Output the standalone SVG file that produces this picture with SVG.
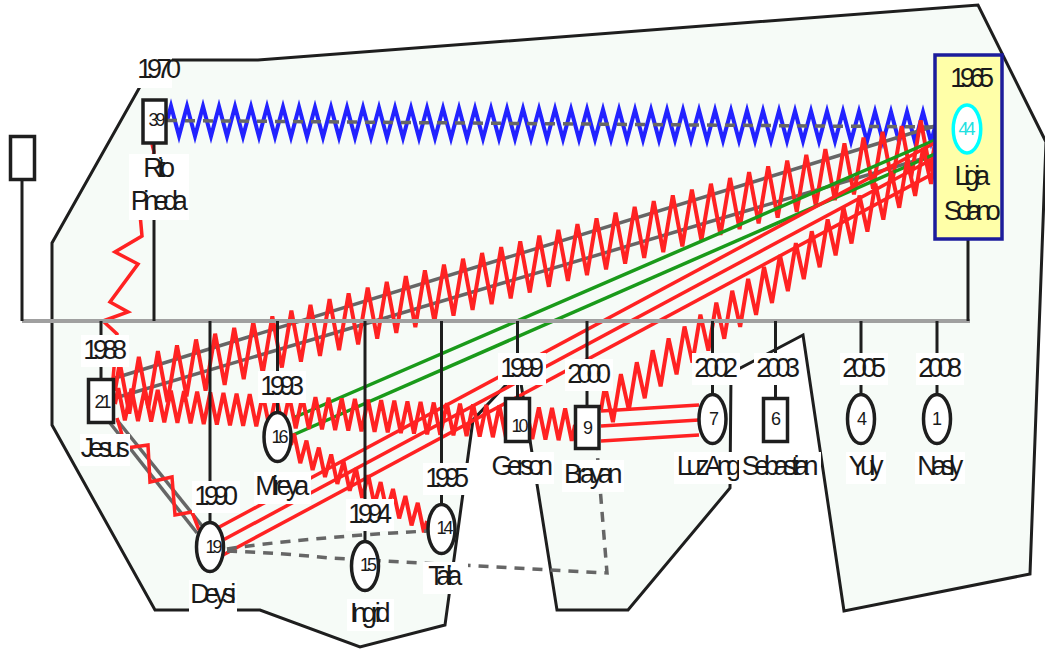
<svg xmlns="http://www.w3.org/2000/svg" width="1045" height="649" viewBox="0 0 1045 649">
<style>
.t{font-family:"Liberation Sans",Arial,sans-serif;font-size:27px;letter-spacing:-5.4px;fill:#1a1a1a;text-anchor:middle}
.n{font-family:"Liberation Sans",Arial,sans-serif;font-size:18px;letter-spacing:-3px;fill:#1a1a1a;text-anchor:middle}
.n1{letter-spacing:0}
.bx{fill:#fff}
.sh{fill:#fff;stroke:#1e1e1e;stroke-width:3.5}
.fam{stroke:#1e1e1e;stroke-width:3;fill:none}
.sib{stroke:#a0a0a0;stroke-width:4;fill:none}
.zz{fill:none;stroke-width:4;vector-effect:non-scaling-stroke;stroke-linejoin:miter}
.red{stroke:#ff2222}
.blue{stroke:#2222ff}
.grn{stroke:#1a9a1a;stroke-width:3.5;fill:none}
.gry{stroke:#666;stroke-width:3.5;fill:none}
.dsh{stroke:#666;stroke-width:3.5;fill:none;stroke-dasharray:10 8}
.rl{stroke:#ff2222;stroke-width:3.5;fill:none}
</style>
<rect width="1045" height="649" fill="#fff"/>
<path id="zone" d="M155,60 L258,60 L978,5 L1046,142 L1030,574 L844,611 L803,335 L731,373 L730,488 L628,610 L557,610 L519,371 L473,420 L445,625 L360,647 L260,610 L155,610 L52,425 L52,243 Z" fill="#f6fbf7" stroke="#1e1e1e" stroke-width="3"/>
<g id="connectors">
<path class="zz blue" transform="translate(167,121) skewY(0.45) scale(16,15)" d="M0,0l.25,-1
.5,2 .5,-2 .5,2 .5,-2 .5,2 .5,-2 .5,2 .5,-2 .5,2 .5,-2  .5,2 .5,-2 .5,2 .5,-2 .5,2 .5,-2 .5,2 .5,-2 .5,2 .5,-2
.5,2 .5,-2 .5,2 .5,-2 .5,2 .5,-2 .5,2 .5,-2 .5,2 .5,-2  .5,2 .5,-2 .5,2 .5,-2 .5,2 .5,-2 .5,2 .5,-2 .5,2 .5,-2
.5,2 .5,-2 .5,2 .5,-2 .5,2 .5,-2 .5,2 .5,-2 .5,2 .5,-2  .5,2 .5,-2 .5,2 .5,-2 .5,2 .5,-2 .5,2 .5,-2 .5,2 .5,-2
.5,2 .5,-2 .5,2 .5,-2 .5,2 .5,-2 .5,2 .5,-2 .5,2 .5,-2  .5,2 .5,-2 .5,2 .5,-2 .5,2 .5,-2 .5,2 .5,-2 .5,2 .5,-2
.5,2 .5,-2 .5,2 .5,-2 .5,2 .5,-2 .5,2 .5,-2 .5,2 .5,-2  .5,2 .5,-2 .5,2 .5,-2
.5,2 .25,-1"/>
<path class="dsh" d="M167,120.5 L935,127"/>
<path class="gry" d="M115,378 L935,126"/>
<path class="gry" d="M115,398 L935,155"/>
<path class="zz red" transform="translate(115,391) skewY(-16.83) scale(19.07,27)" d="M0,0l.25,-1
.5,2 .5,-2 .5,2 .5,-2 .5,2 .5,-2 .5,2 .5,-2 .5,2 .5,-2  .5,2 .5,-2 .5,2 .5,-2 .5,2 .5,-2 .5,2 .5,-2 .5,2 .5,-2
.5,2 .5,-2 .5,2 .5,-2 .5,2 .5,-2 .5,2 .5,-2 .5,2 .5,-2  .5,2 .5,-2 .5,2 .5,-2 .5,2 .5,-2 .5,2 .5,-2 .5,2 .5,-2
.5,2 .5,-2 .5,2 .5,-2 .5,2 .5,-2 .5,2 .5,-2 .5,2 .5,-2  .5,2 .5,-2 .5,2 .5,-2 .5,2 .5,-2 .5,2 .5,-2 .5,2 .5,-2
.5,2 .5,-2 .5,2 .5,-2 .5,2 .5,-2 .5,2 .5,-2 .5,2 .5,-2  .5,2 .5,-2 .5,2 .5,-2 .5,2 .5,-2 .5,2 .5,-2 .5,2 .5,-2
.5,2 .5,-2 .5,2 .5,-2
.5,2 .25,-1"/>
<path class="grn" d="M293,418 L935,140"/>
<path class="grn" d="M293,435 L935,154"/>
<path class="rl" d="M217,528.3 L935,142.7"/>
<path class="rl" d="M224,539.5 L935,157.7"/>
<path class="rl" d="M223,555 L935,172.6"/>
<path class="zz red" transform="translate(115,404) skewY(2.61) scale(13.143,16)" d="M0,0l.25,-1
.5,2 .5,-2 .5,2 .5,-2 .5,2 .5,-2 .5,2 .5,-2 .5,2 .5,-2  .5,2 .5,-2 .5,2 .5,-2 .5,2 .5,-2 .5,2 .5,-2 .5,2 .5,-2
.5,2 .5,-2 .5,2 .5,-2 .5,2 .5,-2 .5,2 .5,-2 .5,2 .5,-2  .5,2 .5,-2 .5,2 .5,-2 .5,2 .5,-2 .5,2 .5,-2 .5,2 .5,-2
.5,2 .5,-2 .5,2 .5,-2 .5,2 .5,-2 .5,2 .5,-2 .5,2 .5,-2  .5,2 .5,-2 .5,2 .5,-2 .5,2 .5,-2 .5,2 .5,-2 .5,2 .5,-2
.5,2 .5,-2 .5,2 .5,-2 .5,2 .5,-2 .5,2 .5,-2
.5,2 .25,-1"/>
<path class="zz red" transform="translate(601,410) skewY(-36.82) scale(15.905,21)" d="M0,0l.25,-1
.5,2 .5,-2 .5,2 .5,-2 .5,2 .5,-2 .5,2 .5,-2 .5,2 .5,-2  .5,2 .5,-2 .5,2 .5,-2 .5,2 .5,-2 .5,2 .5,-2 .5,2 .5,-2
.5,2 .5,-2 .5,2 .5,-2 .5,2 .5,-2 .5,2 .5,-2 .5,2 .5,-2  .5,2 .5,-2 .5,2 .5,-2 .5,2 .5,-2 .5,2 .5,-2 .5,2 .5,-2
.5,2 .25,-1"/>
<path class="zz red" transform="translate(291,445) skewY(29.2) scale(12.364,13)" d="M0,0l.25,-1
.5,2 .5,-2 .5,2 .5,-2 .5,2 .5,-2 .5,2 .5,-2 .5,2 .5,-2  .5,2 .5,-2 .5,2 .5,-2 .5,2 .5,-2 .5,2 .5,-2 .5,2 .5,-2
.5,2 .25,-1"/>
<path class="rl" d="M601,411 L699,405"/>
<path class="rl" d="M601,426 L699,420"/>
<path class="rl" d="M601,441 L699,435"/>
<path class="rl" d="M152,144 L154,152 L140,214 L142,236 L115,252 L138,264 L110,302 L128,312 L103,321 L117,334 L113,379"/>
<path class="gry" d="M110,423 L197,533"/>
<path class="gry" d="M117,420 L203,527"/>
<path class="rl" d="M117,418 L126,448 L148,445 L150,482 L172,477 L175,515 L192,512 L199,530"/>
<path class="dsh" d="M227,549 Q300,538 427,531"/>
<path class="dsh" d="M227,551 Q280,553 330,558 L607,573 L597,450"/>
</g>
<g id="family-lines">
<path class="sib" d="M22,321 H970"/>
<path class="fam" d="M22,180 V321 M154,143 V321 M968,239 V321 M101,321 V379 M210,321 V522 M277.5,321 V412 M365,321 V541 M441.5,321 V504 M517.5,321 V398 M587,321 V406 M712.5,321 V394 M775.5,321 V398 M861,321 V394 M937,321 V394"/>
</g>
<g id="n-unknown">
<rect class="sh" x="10.5" y="136.5" width="24" height="43"/>
</g>
<g id="n-rito">
<rect class="sh" x="143" y="100" width="23" height="43"/>
<text class="n" x="155.5" y="126">39</text>
<rect class="bx" x="136" y="56" width="36" height="32"/>
<text class="t" x="156.5" y="78">1970</text>
<rect class="bx" x="129" y="154" width="60" height="66"/>
<text class="t" x="156.5" y="177">Rito</text>
<text class="t" x="156.5" y="210">Pineda</text>
</g>
<g id="n-ligia">
<rect x="935" y="55" width="67" height="184" fill="#ffffa8" stroke="#1c1c9c" stroke-width="3.5"/>
<text class="t" x="969.5" y="87">1965</text>
<ellipse cx="967" cy="129" rx="13.75" ry="24" fill="#fff" stroke="#00ffff" stroke-width="3.5"/>
<text class="n" x="965.5" y="135" style="fill:#22e0e0">44</text>
<text class="t" x="969.5" y="185">Ligia</text>
<text class="t" x="969.5" y="220">Solano</text>
</g>
<g id="n-jesus">
<rect class="sh" x="88.5" y="379.5" width="25" height="43"/>
<text class="n" x="101.5" y="408">21</text>
<rect class="bx" x="81" y="335" width="48" height="32"/>
<text class="t" x="102.5" y="359">1988</text>
<rect class="bx" x="80" y="434" width="50" height="32"/>
<text class="t" x="102.5" y="457">Jesus</text>
</g>
<g id="n-deysi">
<ellipse class="sh" cx="210" cy="547" rx="13.5" ry="24.5"/>
<text class="n" x="212.5" y="553">19</text>
<rect class="bx" x="192" y="481" width="48" height="32"/>
<text class="t" x="213.5" y="505">1990</text>
<rect class="bx" x="189" y="580" width="48" height="32"/>
<text class="t" x="210.5" y="603">Deysi</text>
</g>
<g id="n-mireya">
<ellipse class="sh" cx="277.5" cy="437" rx="13.5" ry="24.5"/>
<text class="n" x="278.5" y="443">16</text>
<rect class="bx" x="258" y="371" width="48" height="32"/>
<text class="t" x="279.5" y="395">1993</text>
<rect class="bx" x="254" y="472" width="57" height="32"/>
<text class="t" x="279.5" y="495">Mireya</text>
</g>
<g id="n-ingrid">
<ellipse class="sh" cx="365" cy="566" rx="13.5" ry="24.5"/>
<text class="n" x="367" y="571">15</text>
<rect class="bx" x="346" y="499" width="48" height="32"/>
<text class="t" x="367.5" y="523">1994</text>
<rect class="bx" x="347" y="599" width="47" height="32"/>
<text class="t" x="367.5" y="622">Ingrid</text>
</g>
<g id="n-talia">
<ellipse class="sh" cx="441.5" cy="529" rx="13.5" ry="24.5"/>
<text class="n" x="443.5" y="534">14</text>
<rect class="bx" x="423" y="463" width="48" height="32"/>
<text class="t" x="444.5" y="487">1995</text>
<rect class="bx" x="423" y="562" width="45" height="32"/>
<text class="t" x="442.5" y="585">Talia</text>
</g>
<g id="n-gerson">
<rect class="sh" x="505.5" y="398.5" width="24" height="43"/>
<text class="n" x="518.5" y="432">10</text>
<rect class="bx" x="498" y="353" width="48" height="32"/>
<text class="t" x="519.5" y="377">1999</text>
<rect class="bx" x="490" y="452" width="64" height="32"/>
<text class="t" x="519.5" y="475">Gerson</text>
</g>
<g id="n-brayan">
<rect class="sh" x="575.5" y="406.5" width="23.5" height="42"/>
<text class="n n1" x="588" y="434">9</text>
<rect class="bx" x="565" y="359" width="48" height="32"/>
<text class="t" x="586.5" y="383">2000</text>
<rect class="bx" x="562" y="460" width="62" height="32"/>
<text class="t" x="590.5" y="483">Brayan</text>
</g>
<g id="n-luzangel">
<ellipse class="sh" cx="712.5" cy="419" rx="13.5" ry="24.5"/>
<text class="n n1" x="714" y="425">7</text>
<rect class="bx" x="692" y="353" width="48" height="32"/>
<text class="t" x="713.5" y="377">2002</text>
<rect class="bx" x="674" y="452" width="80" height="32"/>
<text class="t" x="711.5" y="475">LuzAngel</text>
</g>
<g id="n-sebastian">
<rect class="sh" x="763.5" y="398.5" width="24" height="43"/>
<text class="n n1" x="776" y="425">6</text>
<rect class="bx" x="754" y="353" width="48" height="32"/>
<text class="t" x="775.5" y="377">2003</text>
<rect class="bx" x="739" y="452" width="82" height="32"/>
<text class="t" x="777.5" y="475">Sebastian</text>
</g>
<g id="n-yuly">
<ellipse class="sh" cx="861" cy="419" rx="13.5" ry="24.5"/>
<text class="n n1" x="862" y="425">4</text>
<rect class="bx" x="840" y="353" width="48" height="32"/>
<text class="t" x="861.5" y="377">2005</text>
<rect class="bx" x="846" y="452" width="40" height="32"/>
<text class="t" x="863.5" y="475">Yuly</text>
</g>
<g id="n-nasly">
<ellipse class="sh" cx="937" cy="419" rx="13.5" ry="24.5"/>
<text class="n n1" x="937" y="425">1</text>
<rect class="bx" x="916" y="353" width="48" height="32"/>
<text class="t" x="937.5" y="377">2008</text>
<rect class="bx" x="915" y="452" width="50" height="32"/>
<text class="t" x="937.5" y="475">Nasly</text>
</g>
</svg>
